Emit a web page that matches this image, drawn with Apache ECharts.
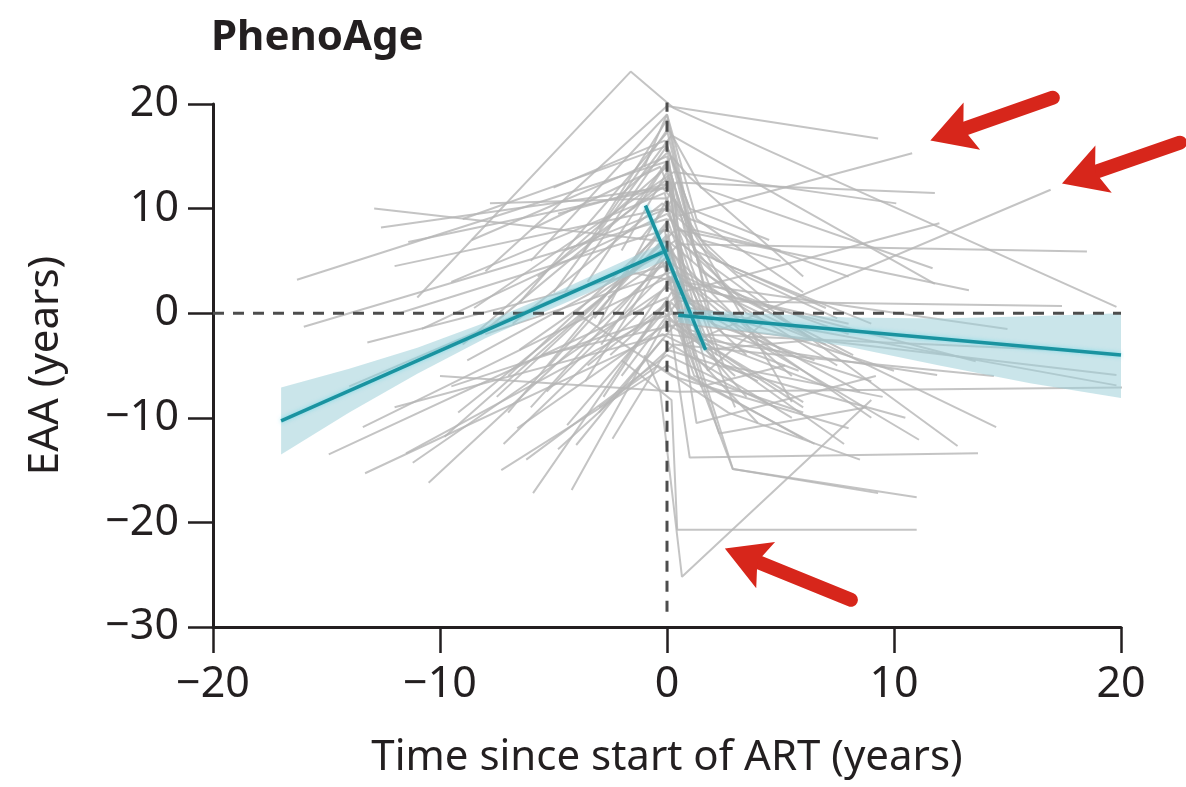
<!DOCTYPE html>
<html>
<head>
<meta charset="utf-8">
<script src="https://cdn.jsdelivr.net/npm/echarts@6/dist/echarts.min.js"></script>
<style>
  html, body { margin: 0; padding: 0; background: #fff; }
  #chart { width: 1186px; height: 787px; }
</style>
</head>
<body>
<div id="chart"></div>
<script>
// Axis ranges and ticks
const xTicks = [-20, -10, 0, 10, 20];
const yTicks = [-30, -20, -10, 0, 10, 20];

// Individual trajectories: visit times (years since ART start) and EAA per participant
const visitTimes = [
  [-16.3, 0.0, 1.5, 6.5],
  [-12.9, 0.1, 3.0],
  [-12.6, -0.2, 1.0, 8.0],
  [-16.0, 0.0, 2.2],
  [-13.2, -0.1, 5.0],
  [-14.9, 0.0, 1.2, 6.0],
  [-13.3, -0.2, 4.0],
  [-13.4, 0.1, 2.5, 9.0],
  [-10.5, 0.0, 7.5],
  [-5.9, -0.1, 3.5],
  [-4.2, 0.0, 6.0],
  [-4.4, 0.2, 2.0],
  [-4.0, -0.2, 5.5],
  [-9.8, 0.0, 1.5, 10.0],
  [-11.5, -0.1, 3.0],
  [-11.2, 0.0, 8.5],
  [-11.4, 0.0, 1.8, 4.5],
  [-11.0, -1.6, 0.3, 19.8],
  [-8.0, 0.0, 9.3],
  [-6.5, 0.1, 1.5, 11.7],
  [-5.0, 0.2, 11.8],
  [-9.0, 0.0, 0.5, 10.8],
  [-7.0, -0.1, 0.8, 16.9],
  [-3.0, 0.4, 11.8],
  [-8.5, 0.3, 10.1],
  [-2.5, 0.6, 12.0],
  [-6.0, 0.5, 18.5],
  [-3.5, 0.2, 1.0, 6.0],
  [-7.5, 0.4, 13.3],
  [-2.0, 0.5, 17.4],
  [-10.0, 0.5, 20.8],
  [-5.5, 0.6, 19.8],
  [-3.0, 1.0, 19.8],
  [-8.0, 0.3, 14.5],
  [-6.5, 0.4, 12.8],
  [-2.8, 0.2, 11.1],
  [-3.5, 0.0, 1.0, 13.7],
  [-1.5, 0.2, 2.9, 9.3],
  [-9.5, 0.3, 2.9, 11.0],
  [-2.0, 0.2, 0.45, 11.0],
  [-1.0, -0.3, 0.66, 9.0],
  [-12.0, 0.0, 11.9],
  [-4.8, 0.3, 14.4],
  [-7.2, 0.2, 13.6],
  [-1.8, 0.5, 15.0],
  [0.0, 1.0, 17.0],
  [-14.0, -0.5],
  [-9.0, 0.0, 1.5, 5.0],
  [-6.0, -0.3, 2.0, 8.0],
  [-3.8, 0.0, 1.2, 7.0],
  [-5.0, -0.1, 1.0, 4.5],
  [-7.8, 0.0, 2.0, 6.5],
  [-2.2, 0.1, 1.6, 8.0],
  [-4.5, 0.0, 2.5, 9.5],
  [-6.8, -0.2, 3.0, 7.5],
  [-3.2, 0.0, 1.0, 6.0],
  [-8.8, 0.1, 4.0, 9.0],
  [-1.2, 0.3, 5.5],
  [-5.3, 0.0, 2.3, 8.8],
  [-10.8, 0.0, 3.5, 7.0],
  [-2.6, 0.1, 1.3, 9.2],
  [-7.3, 0.0, 6.5],
  [-4.0, 0.2, 8.0],
  [-1.0, 0.0, 1.1, 5.0],
  [-3.0, -0.4, 2.7, 8.5],
  [-6.2, 0.0, 4.8],
  [-12.0, -0.1],
  [-9.2, 0.0, 1.0, 3.5],
  [-2.4, 0.0, 3.8, 10.5],
  [-5.7, 0.1, 0.9, 5.8],
  [-6.0, 0.0, 1.3, 6.0],
  [-4.5, 0.0, 0.8, 5.5],
  [-8.2, 0.1, 1.0, 7.0],
  [-3.0, 0.0, 2.0],
  [-9.5, -0.1, 1.7, 6.8],
  [-2.0, 0.0, 1.2, 4.0],
  [-7.0, 0.1, 2.2, 9.0],
  [-5.2, 0.0, 1.4, 6.0],
  [-3.6, -0.2, 1.5, 5.2],
  [-11.8, 0.0, 3.2, 8.2],
  [-1.5, 0.0, 1.0],
  [-4.8, 0.2, 0.9, 3.0],
  [-6.6, 0.0, 2.6, 7.8],
  [-2.9, 0.1, 1.8, 4.2],
  [-8.6, 0.0, 1.1]
];
const visitEAA = [
  [3.2, 14.5, 4.0, -2.5],
  [10.0, 6.8, 1.5],
  [8.2, 12.0, 9.0, 3.5],
  [-1.3, 9.0, -4.0],
  [-2.8, 4.5, -3.5],
  [-13.5, 1.5, -6.0, -9.5],
  [-15.3, -2.0, -6.5],
  [-10.9, 3.5, -2.0, -6.5],
  [-16.2, 5.0, -5.0],
  [-17.2, 1.0, -8.0],
  [-16.9, -0.5, -9.0],
  [-10.7, 1.0, -3.0],
  [-12.6, -2.5, -10.0],
  [-11.8, 7.0, 0.5, -5.5],
  [-13.4, 0.0, -6.0],
  [-14.3, 2.5, -7.5],
  [6.8, 12.0, 6.0, 1.0],
  [1.5, 23.1, 19.6, 0.6],
  [4.0, 19.8, 16.7],
  [1.0, 17.5, 12.0, 4.3],
  [2.0, 17.0, 2.8],
  [-3.0, 14.0, 9.3, 15.3],
  [-6.0, 8.0, -3.0, 11.8],
  [-1.0, 12.5, 11.5],
  [0.5, 13.5, 10.5],
  [-4.0, 2.0, 8.6],
  [-9.0, 6.6, 5.9],
  [3.0, 15.0, 13.0, 3.5],
  [-8.0, 8.0, 2.2],
  [-6.0, 1.2, 0.7],
  [-6.0, -7.5, -7.1],
  [-4.0, -1.0, -5.9],
  [-9.5, 0.5, -6.9],
  [-2.0, 4.0, -10.9],
  [-3.5, 7.0, -12.7],
  [-8.0, 2.0, -12.1],
  [-5.0, 1.0, -13.8, -13.4],
  [-2.0, 3.5, -14.9, -17.2],
  [-7.0, 0.0, -14.9, -17.6],
  [-4.5, -8.3, -20.7, -20.7],
  [-4.0, -7.4, -25.2, -8.3],
  [-9.0, -2.0, -5.9],
  [-13.0, -3.0, -6.0],
  [-12.5, 3.0, -4.6],
  [4.0, 3.0, -1.5],
  [6.0, -2.0, -3.5],
  [-7.0, 5.5],
  [9.0, 16.0, 7.0, 5.0],
  [8.0, 14.0, 2.0, -1.0],
  [5.5, 18.5, 6.0, 0.5],
  [12.0, 16.5, 10.0, 7.0],
  [10.5, 11.0, -1.0, -4.5],
  [11.0, 15.5, 3.0, -2.0],
  [6.0, 10.0, -5.0, -8.0],
  [-1.0, 10.5, 4.0, -0.5],
  [-0.5, 8.5, -6.0, -12.0],
  [-4.5, 6.0, -2.5, -10.0],
  [7.0, 11.0, -8.5],
  [-7.5, 4.0, -11.5, -9.0],
  [-1.5, 9.5, 0.0, -3.0],
  [1.5, 5.5, -10.5, -6.0],
  [-15.0, -5.0, -12.5],
  [0.0, -6.0, -11.0],
  [14.0, 19.0, 8.0, 6.0],
  [-9.0, -5.0, -9.5, -14.0],
  [-14.0, -4.0, -9.0],
  [4.5, 10.0],
  [-9.5, 6.5, 1.0, -4.0],
  [-12.0, -3.5, -6.0, -10.0],
  [3.5, 12.5, -1.5, -5.5],
  [5.0, 19.0, 9.0, 2.0],
  [2.0, 16.0, 3.0, -6.0],
  [-2.0, 13.0, -2.0, -7.0],
  [8.0, 17.5, -1.0],
  [3.0, 11.5, -3.5, -2.5],
  [6.0, 13.5, -4.0, -10.5],
  [-9.5, 9.0, 5.0, -1.0],
  [-5.0, 7.5, -2.5, -8.5],
  [-6.5, 5.0, -7.0, -5.0],
  [0.0, 8.0, 1.5, -4.0],
  [10.0, 14.5, 7.5],
  [9.5, 12.5, 2.0, -9.0],
  [-11.0, -1.0, -4.5, -12.5],
  [-3.0, 6.5, -5.5, -1.0],
  [7.0, 15.0, 5.0]
];

// Fitted piecewise trajectory (pre-ART, early post-ART, late post-ART) with 95% bands
const preFitTime = [-17, 0];
const preFitEAA = [-10.3, 6.0];
const preBandTime = [-17, -14, -11, -8, -5, -2, 0];
const preBandUpper = [-7.1, -5.3, -3.3, -0.9, 1.9, 4.9, 6.9];
const preBandLower = [-13.5, -9.5, -5.8, -2.4, 0.5, 3.3, 5.1];

const earlyFitTime = [-0.95, 1.7];
const earlyFitEAA = [10.3, -3.5];

const postFitTime = [0.5, 20];
const postFitEAA = [-0.2, -4.0];
const postBandTime = [0.5, 4, 8, 12, 16, 20];
const postBandUpper = [0.4, 0.0, -0.4, -0.5, -0.3, 0.0];
const postBandLower = [-0.9, -1.9, -3.2, -5.0, -6.7, -8.1];

// Reference lines at EAA = 0 and at ART start
const zeroLineTime = [-20, 20];
const artLineEAA = [20.3, -28.6];

// Highlight arrows (tail -> tip, in data units)
const arrowTails = [[17.0, 20.6], [22.6, 16.3], [8.1, -27.4]];
const arrowTips = [[11.6, 16.5], [17.4, 12.4], [2.55, -22.5]];

const FONT = '"Noto Sans", "DejaVu Sans", sans-serif';
const INK = '#231f20';
const TEAL = '#1a93a0';
const RED = '#d7261b';

const fmt = v => (v < 0 ? '\u2212' + Math.abs(v) : String(v));

function bandSeries(times, upper, lower) {
  return {
    type: 'custom',
    silent: true,
    z: 3,
    data: [0],
    renderItem: (params, api) => {
      const pts = [];
      for (let i = 0; i < times.length; i++) pts.push(api.coord([times[i], upper[i]]));
      for (let i = times.length - 1; i >= 0; i--) pts.push(api.coord([times[i], lower[i]]));
      return { type: 'polygon', shape: { points: pts }, style: { fill: '#9fd0d8', opacity: 0.55 } };
    }
  };
}

function fitSeries(times, vals) {
  return {
    type: 'line', silent: true, z: 6, symbol: 'none', animation: false,
    data: times.map((t, i) => [t, vals[i]]),
    lineStyle: { color: TEAL, width: 3.5, shadowColor: 'rgba(80,210,230,0.6)', shadowBlur: 4 }
  };
}

function dashedSeries(points) {
  return {
    type: 'line', silent: true, z: 5, symbol: 'none', animation: false,
    data: points,
    lineStyle: { color: '#4d4d4d', width: 3, type: [11, 9] }
  };
}

const participantSeries = visitTimes.map((ts, i) => ({
  type: 'line', silent: true, z: 2, symbol: 'none', animation: false, clip: false,
  data: ts.map((t, j) => [t, visitEAA[i][j]]),
  lineStyle: { color: '#b5b5b5', width: 2, opacity: 0.8 }
}));

const arrowSeries = {
  type: 'custom', silent: true, z: 10, clip: false,
  data: arrowTips.map((p, i) => i),
  renderItem: (params, api) => {
    const i = params.dataIndex;
    const a = api.coord(arrowTails[i]);
    const b = api.coord(arrowTips[i]);
    const dx = b[0] - a[0], dy = b[1] - a[1];
    const L = Math.hypot(dx, dy);
    const ux = dx / L, uy = dy / L, nx = -uy, ny = ux;
    const headLen = 44, headHalf = 25, notch = 9;
    const bx = b[0] - ux * headLen, by = b[1] - uy * headLen;
    const nxp = bx + ux * notch, nyp = by + uy * notch;
    return {
      type: 'group',
      children: [
        { type: 'line', shape: { x1: a[0], y1: a[1], x2: nxp, y2: nyp },
          style: { stroke: RED, lineWidth: 14, lineCap: 'round' } },
        { type: 'polygon',
          shape: { points: [[b[0], b[1]], [bx + nx * headHalf, by + ny * headHalf], [nxp, nyp], [bx - nx * headHalf, by - ny * headHalf]] },
          style: { fill: RED } }
      ]
    };
  }
};

const chart = echarts.init(document.getElementById('chart'), null, { renderer: 'canvas' });
chart.setOption({
  animation: false,
  backgroundColor: '#fff',
  title: {
    text: 'PhenoAge', left: 206, top: 12,
    textStyle: { fontFamily: FONT, fontSize: 42, fontWeight: 'bold', color: INK }
  },
  grid: { left: 213, right: 65, top: 104, bottom: 160, containLabel: false },
  xAxis: {
    type: 'value', min: xTicks[0], max: xTicks[xTicks.length - 1], interval: 10,
    name: 'Time since start of ART (years)', nameLocation: 'middle', nameGap: 110,
    nameTextStyle: { fontFamily: FONT, fontSize: 42, color: INK },
    axisLine: { show: true, onZero: false, lineStyle: { color: INK, width: 3 } },
    axisTick: { show: true, length: 26, lineStyle: { color: INK, width: 2.5 } },
    axisLabel: { formatter: fmt, fontFamily: FONT, fontSize: 43, color: INK, margin: 36 },
    splitLine: { show: false }
  },
  yAxis: {
    type: 'value', min: yTicks[0], max: yTicks[yTicks.length - 1], interval: 10,
    name: 'EAA (years)', nameLocation: 'middle', nameGap: 146, nameRotate: 90,
    nameTextStyle: { fontFamily: FONT, fontSize: 42, color: INK },
    axisLine: { show: true, onZero: false, lineStyle: { color: INK, width: 3 } },
    axisTick: { show: true, length: 25, lineStyle: { color: INK, width: 2.5 } },
    axisLabel: { formatter: fmt, fontFamily: FONT, fontSize: 43, color: INK, margin: 34 },
    splitLine: { show: false }
  },
  series: [
    ...participantSeries,
    bandSeries(preBandTime, preBandUpper, preBandLower),
    bandSeries(postBandTime, postBandUpper, postBandLower),
    dashedSeries(zeroLineTime.map(t => [t, 0])),
    dashedSeries(artLineEAA.map(v => [0, v])),
    fitSeries(preFitTime, preFitEAA),
    fitSeries(earlyFitTime, earlyFitEAA),
    fitSeries(postFitTime, postFitEAA),
    arrowSeries
  ]
});
</script>
</body>
</html>
